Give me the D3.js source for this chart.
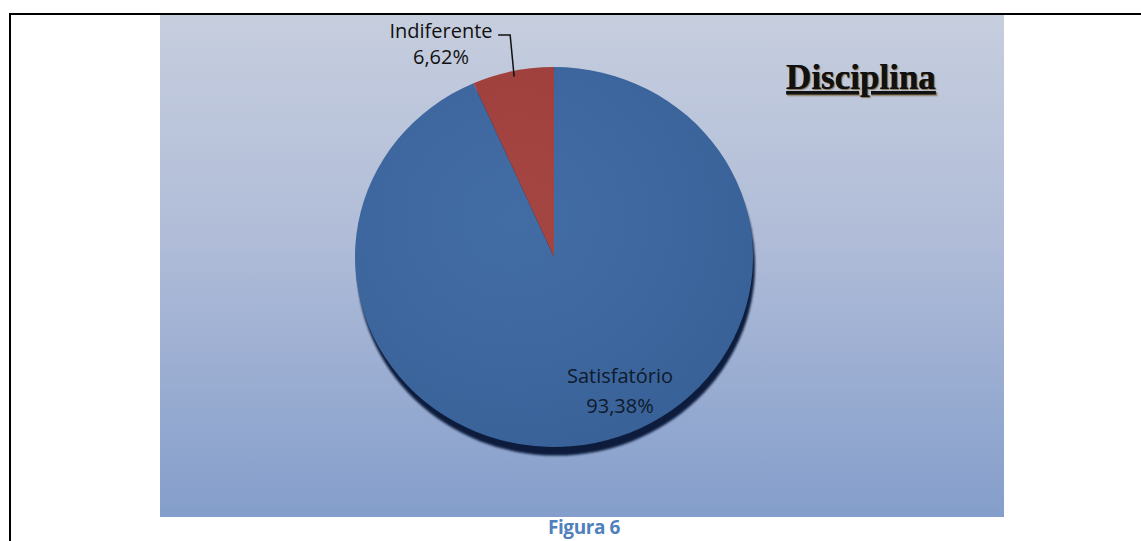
<!DOCTYPE html>
<html>
<head>
<meta charset="utf-8">
<script src="https://cdn.jsdelivr.net/npm/d3@7"></script>
<style>
  html, body { margin: 0; padding: 0; background: #fff; }
  svg { display: block; }
</style>
</head>
<body>
<svg id="chart" width="1141" height="541"></svg>
<script>
// Survey answers for "Disciplina"
const categories = ["Satisfatório", "Indiferente"];
const values = [93.38, 6.62];
const valueLabels = ["93,38%", "6,62%"];
const colors = ["#3a66a0", "#a23e3b"];
const chartTitle = "Disciplina";
const caption = "Figura 6";

const svg = d3.select("#chart");
const defs = svg.append("defs");

// Page frame lines
svg.append("line").attr("x1", 9).attr("x2", 1141).attr("y1", 14).attr("y2", 14)
  .attr("stroke", "#000").attr("stroke-width", 2);
svg.append("line").attr("x1", 10).attr("x2", 10).attr("y1", 13).attr("y2", 541)
  .attr("stroke", "#000").attr("stroke-width", 2);

// Plot background
const bg = defs.append("linearGradient").attr("id", "bg")
  .attr("x1", 0).attr("y1", 0).attr("x2", 0).attr("y2", 1);
bg.append("stop").attr("offset", "0%").attr("stop-color", "#c6cede");
bg.append("stop").attr("offset", "45%").attr("stop-color", "#b0bcd8");
bg.append("stop").attr("offset", "100%").attr("stop-color", "#849ecb");

const area = { x: 160, y: 15, w: 844, h: 502 };
svg.append("rect").attr("x", area.x).attr("y", area.y)
  .attr("width", area.w).attr("height", area.h).attr("fill", "url(#bg)");

// Pie geometry (slightly flattened vertically)
const cx = 554, cy = 257, rx = 199, ry = 190;

const pie = d3.pie().sort(null).value(d => d.value);
const arcs = pie(categories.map((c, i) => ({ name: c, value: values[i], label: valueLabels[i], color: colors[i] })));
const arc = d3.arc().innerRadius(0).outerRadius(rx);

const shadowBlur = defs.append("filter").attr("id", "sh").attr("x", "-10%").attr("y", "-10%")
  .attr("width", "120%").attr("height", "120%");
shadowBlur.append("feGaussianBlur").attr("stdDeviation", 1.2);

const g = svg.append("g").attr("transform", `translate(${cx},${cy}) scale(1,${ry / rx})`);

// Drop shadow beneath the pie
g.append("circle").attr("cx", 2).attr("cy", 9).attr("r", rx)
  .attr("fill", "#0a1f3c").attr("filter", "url(#sh)");

// Soft shading inside the slices
const shade = defs.append("radialGradient").attr("id", "shade")
  .attr("cx", "40%").attr("cy", "40%").attr("r", "70%");
shade.append("stop").attr("offset", "0%").attr("stop-color", "#fff").attr("stop-opacity", 0.04);
shade.append("stop").attr("offset", "100%").attr("stop-color", "#000").attr("stop-opacity", 0.06);

g.selectAll("path.slice").data(arcs).join("path")
  .attr("class", "slice")
  .attr("d", arc)
  .attr("fill", d => d.data.color);
g.append("circle").attr("r", rx).attr("fill", "url(#shade)");

// Slice labels
const labelFont = "'Open Sans', 'Noto Sans', sans-serif";
const sat = arcs[0], ind = arcs[1];

const satLabel = svg.append("text").attr("x", cx + 66).attr("y", cy + 126)
  .attr("text-anchor", "middle").attr("font-family", labelFont).attr("font-size", 20)
  .attr("fill", "#0f1a2a");
satLabel.append("tspan").attr("x", cx + 66).attr("dy", 0).text(sat.data.name);
satLabel.append("tspan").attr("x", cx + 66).attr("dy", 30).text(sat.data.label);

// Leader line from the red slice to its label
const edgeAngle = (ind.startAngle + ind.endAngle) / 2;
const ex = cx + Math.sin(edgeAngle) * rx * 0.97;
const ey = cy - Math.cos(edgeAngle) * ry * 0.97;
svg.append("path")
  .attr("d", `M${ex},${ey} L${ex - 4},${35} L${ex - 16},${35}`)
  .attr("fill", "none").attr("stroke", "#111").attr("stroke-width", 1.5);

const indLabel = svg.append("text").attr("text-anchor", "middle")
  .attr("font-family", labelFont).attr("font-size", 20).attr("fill", "#111");
indLabel.append("tspan").attr("x", 441).attr("y", 38).text(ind.data.name);
indLabel.append("tspan").attr("x", 441).attr("dy", 26).text(ind.data.label);

// Title
svg.append("text").attr("x", 861).attr("y", 89).attr("text-anchor", "middle")
  .attr("font-family", "'Liberation Serif', 'DejaVu Serif', serif")
  .attr("font-weight", "bold").attr("font-size", 35).attr("fill", "#111")
  .attr("text-decoration", "underline")
  .style("text-shadow", "1px 1px 1px rgba(120,90,40,0.5)")
  .text(chartTitle);

// Caption
svg.append("text").attr("x", 584).attr("y", 534).attr("text-anchor", "middle")
  .attr("font-family", "'Open Sans', 'Noto Sans', sans-serif")
  .attr("font-weight", "bold").attr("font-size", 19).attr("fill", "#4f81bd")
  .attr("letter-spacing", -0.4)
  .text(caption);
</script>
</body>
</html>
